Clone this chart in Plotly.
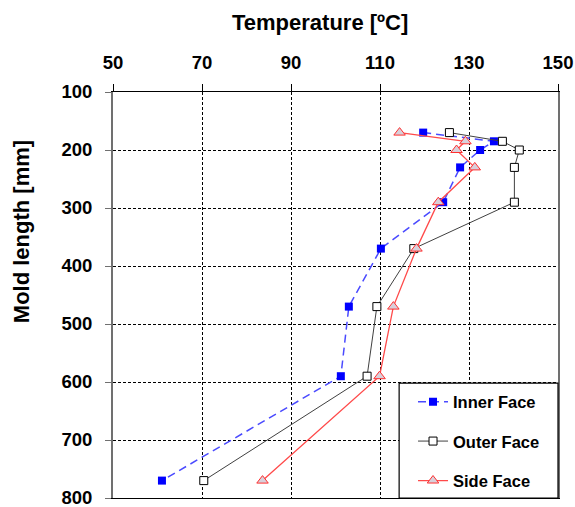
import plotly.graph_objects as go

depth = [170, 185, 200, 230, 290, 370, 470, 590, 770]
inner_face = [119.7, 135.6, 132.5, 128.0, 124.2, 110.2, 103.0, 101.2, 61.0]
outer_face = [125.6, 137.5, 141.3, 140.2, 140.2, 117.6, 109.3, 107.1, 70.4]
side_face = [114.4, 129.2, 127.2, 131.3, 123.1, 118.2, 113.0, 109.9, 83.6]

x_ticks = [50, 70, 90, 110, 130, 150]
y_ticks = [100, 200, 300, 400, 500, 600, 700, 800]

FONT = "Liberation Sans"

fig = go.Figure()
fig.add_trace(go.Scatter(
    x=inner_face, y=depth, name="Inner Face", mode="lines+markers", legendgroup="a",
    line=dict(color="#4a4aff", width=1.5, dash="8px,5px"),
    marker=dict(symbol="square", size=8, color="#0000ff", line=dict(color="#0000ff", width=0)),
))
fig.add_trace(go.Scatter(
    x=outer_face, y=depth, name="Outer Face", mode="lines+markers", legendgroup="b",
    line=dict(color="#404040", width=1),
    marker=dict(symbol="square", size=8, color="white", line=dict(color="black", width=1)),
))
fig.add_trace(go.Scatter(
    x=side_face, y=depth, name="Side Face", mode="lines+markers", legendgroup="c",
    line=dict(color="#ff4a4a", width=1.3),
    marker=dict(symbol="triangle-up", size=10, color="#d8d0da", line=dict(color="#ff3030", width=1)),
))

fig.update_layout(
    width=575, height=507,
    margin=dict(l=113, r=17, t=92, b=9, autoexpand=False),
    paper_bgcolor="white", plot_bgcolor="white",
    font=dict(family=FONT, color="black"),
    showlegend=True,
    legend=dict(
        x=0.6742, y=0.2798, xanchor="left", yanchor="top",
        bgcolor="rgba(0,0,0,0)", borderwidth=0,
        font=dict(family=FONT, size=16.5, weight="bold", color="black"),
        tracegroupgap=15,
    ),
    shapes=[dict(
        type="rect", xref="paper", yref="paper", x0=0.643, x1=1.0, y0=0.0, y1=0.283,
        line=dict(color="black", width=1.2), fillcolor="white", layer="above",
    )],
    annotations=[
        dict(text="Temperature [ºC]", xref="paper", yref="paper", x=0.465, y=1.1724,
             xanchor="center", yanchor="middle", showarrow=False,
             font=dict(family=FONT, size=22, weight="bold", color="black")),
        dict(text="Mold length [mm]", xref="paper", yref="paper", x=-0.2065, y=0.655,
             xanchor="center", yanchor="middle", showarrow=False, textangle=-90,
             font=dict(family=FONT, size=22, weight="bold", color="black")),
    ],
)

fig.update_xaxes(
    side="top", range=[50, 150], tickvals=x_ticks, ticktext=[str(v) for v in x_ticks],
    showgrid=True, gridcolor="black", gridwidth=1, griddash="3px,2px",
    showline=True, mirror=True, linecolor="black", linewidth=1,
    ticks="outside", ticklen=7, tickcolor="black", ticklabelstandoff=8,
    tickfont=dict(family=FONT, size=18.5, weight="bold", color="black"),
    zeroline=False, automargin=False, ticklabeloverflow="allow",
)
fig.update_yaxes(
    range=[800, 100], tickvals=y_ticks, ticktext=[str(v) for v in y_ticks],
    showgrid=True, gridcolor="black", gridwidth=1, griddash="3px,2px",
    showline=True, mirror=True, linecolor="#707070", linewidth=2,
    ticks="outside", ticklen=6, tickcolor="#707070", ticklabelstandoff=9,
    tickfont=dict(family=FONT, size=18.5, weight="bold", color="black"),
    zeroline=False, automargin=False, ticklabeloverflow="allow",
)

fig.write_html("out.html", config={"displayModeBar": False},
               post_script="document.body.style.margin='0';")
